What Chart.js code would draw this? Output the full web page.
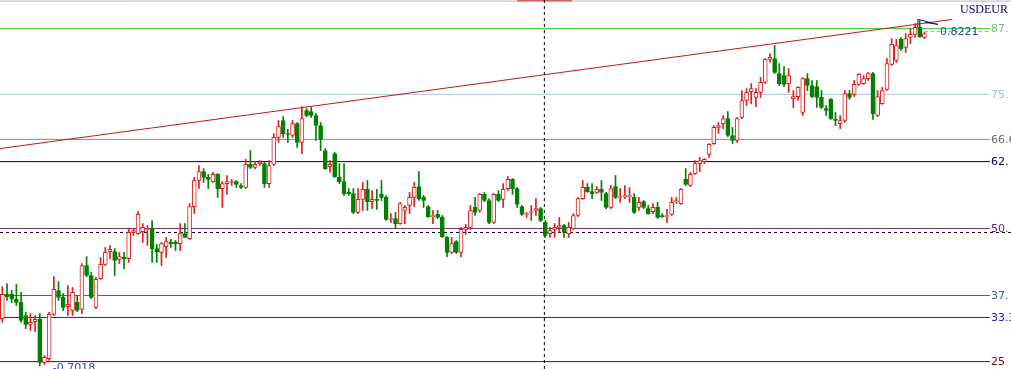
<!DOCTYPE html>
<html>
<head>
<meta charset="utf-8">
<script src="https://cdn.jsdelivr.net/npm/chart.js@4.4.1/dist/chart.umd.min.js"></script>
<style>
  html, body { margin: 0; padding: 0; background: #fff; overflow: hidden; }
  #wrap { width: 1011px; height: 369px; position: relative; }
</style>
</head>
<body>
<div id="wrap"><canvas id="fxChart"></canvas></div>
<script>
// USDEUR candles (oldest first)
const symbol = 'USDEUR';
const openPrices = [
  .7188,.7275,.7275,.7257,.7246,.7199,.7167,.7177,.7185,.7030,
  .7044,.7203,.7289,.7264,.7231,.7217,.7246,.7221,.7379,.7343,
  .7228,.7332,.7383,.7429,.7429,.7401,.7408,.7404,.7498,.7494,
  .7501,.7509,.7512,.7440,.7426,.7447,.7462,.7462,.7458,.7494,
  .7476,.7591,.7685,.7717,.7696,.7681,.7707,.7656,.7674,.7678,
  .7681,.7667,.7660,.7743,.7732,.7746,.7746,.7674,.7743,.7840,
  .7901,.7854,.7847,.7890,.7822,.7937,.7933,.7919,.7883,.7793,
  .7735,.7782,.7696,.7681,.7642,.7638,.7570,.7617,.7653,.7609,
  .7617,.7635,.7624,.7545,.7548,.7530,.7577,.7595,.7624,.7663,
  .7624,.7591,.7555,.7563,.7552,.7480,.7426,.7465,.7426,.7509,
  .7516,.7588,.7577,.7635,.7613,.7534,.7635,.7617,.7656,.7689,
  .7656,.7591,.7563,.7570,.7577,.7584,.7534,.7494,.7509,.7516,
  .7523,.7494,.7512,.7559,.7620,.7660,.7645,.7642,.7653,.7638,
  .7588,.7663,.7624,.7627,.7627,.7624,.7588,.7609,.7584,.7573,
  .7588,.7559,.7555,.7563,.7609,.7602,.7689,.7667,.7710,.7746,
  .7753,.7779,.7818,.7876,.7890,.7908,.7847,.7829,.7912,.7973,
  .8005,.7984,.8002,.8038,.8121,.8124,.8070,.8063,.8034,.7980,
  .7987,.7930,.8052,.8027,.8023,.7984,.7944,.7977,.7905,.7890,
  .7901,.7998,.7995,.8031,.8034,.8052,.8070,.7919,.7962,.8013,
  .8103,.8117,.8193,.8164,.8200,.8211,.8236,.8200
];
const highPrices = [
  .7303,.7314,.7289,.7311,.7282,.7210,.7206,.7199,.7206,.7055,
  .7210,.7339,.7321,.7278,.7307,.7300,.7271,.7386,.7411,.7354,
  .7336,.7408,.7444,.7451,.7440,.7426,.7426,.7512,.7512,.7573,
  .7530,.7523,.7541,.7455,.7462,.7480,.7473,.7469,.7530,.7530,
  .7602,.7696,.7739,.7728,.7707,.7714,.7710,.7681,.7703,.7689,
  .7685,.7674,.7761,.7793,.7753,.7757,.7750,.7757,.7854,.7901,
  .7915,.7869,.7901,.7894,.7951,.7944,.7948,.7926,.7894,.7800,
  .7757,.7786,.7746,.7746,.7656,.7656,.7656,.7678,.7685,.7649,
  .7653,.7685,.7631,.7566,.7570,.7606,.7595,.7642,.7678,.7717,
  .7631,.7595,.7577,.7577,.7559,.7483,.7480,.7469,.7516,.7527,
  .7595,.7624,.7638,.7642,.7620,.7638,.7649,.7674,.7699,.7692,
  .7660,.7595,.7570,.7595,.7620,.7588,.7541,.7516,.7530,.7552,
  .7527,.7534,.7566,.7624,.7685,.7674,.7674,.7663,.7685,.7642,
  .7667,.7703,.7656,.7667,.7660,.7638,.7624,.7613,.7595,.7602,
  .7606,.7566,.7581,.7624,.7624,.7656,.7728,.7714,.7757,.7768,
  .7764,.7818,.7883,.7894,.7919,.7933,.7876,.7912,.8009,.8016,
  .8034,.8016,.8056,.8124,.8142,.8171,.8106,.8095,.8088,.8009,
  .8023,.8056,.8070,.8045,.8045,.8009,.7955,.7980,.7930,.7919,
  .8009,.8009,.8045,.8070,.8063,.8074,.8074,.8009,.8020,.8124,
  .8196,.8193,.8200,.8214,.8232,.8250,.8261,.8218
];
const lowPrices = [
  .7174,.7253,.7246,.7235,.7174,.7152,.7145,.7141,.7018,.7023,
  .7037,.7199,.7253,.7217,.7199,.7199,.7213,.7206,.7339,.7260,
  .7224,.7329,.7379,.7404,.7343,.7386,.7368,.7390,.7487,.7491,
  .7462,.7451,.7390,.7390,.7379,.7408,.7444,.7433,.7433,.7480,
  .7473,.7566,.7656,.7678,.7656,.7678,.7624,.7588,.7635,.7667,
  .7660,.7656,.7656,.7728,.7728,.7739,.7660,.7660,.7739,.7822,
  .7840,.7822,.7840,.7804,.7782,.7915,.7912,.7829,.7793,.7725,
  .7714,.7696,.7674,.7631,.7631,.7566,.7566,.7577,.7577,.7584,
  .7581,.7613,.7541,.7534,.7512,.7527,.7530,.7566,.7591,.7613,
  .7588,.7552,.7530,.7548,.7480,.7411,.7422,.7422,.7411,.7491,
  .7509,.7559,.7570,.7609,.7530,.7530,.7609,.7588,.7649,.7635,
  .7588,.7559,.7552,.7541,.7559,.7537,.7480,.7480,.7480,.7498,
  .7480,.7480,.7509,.7555,.7617,.7642,.7620,.7638,.7613,.7584,
  .7584,.7620,.7606,.7620,.7606,.7566,.7577,.7584,.7563,.7566,
  .7548,.7552,.7534,.7559,.7602,.7599,.7667,.7663,.7707,.7717,
  .7746,.7768,.7815,.7854,.7872,.7843,.7818,.7822,.7908,.7955,
  .7962,.7951,.7984,.8034,.8110,.8070,.8027,.8023,.8002,.7948,
  .7973,.7919,.8009,.7984,.7948,.7944,.7919,.7905,.7883,.7872,
  .7894,.7977,.7987,.8027,.8031,.8045,.7905,.7915,.7959,.8009,
  .8099,.8110,.8153,.8146,.8178,.8200,.8200,.8196
];
const closePrices = [
  .7275,.7267,.7260,.7246,.7181,.7167,.7174,.7185,.7030,.7048,
  .7203,.7293,.7264,.7228,.7239,.7282,.7217,.7379,.7343,.7264,
  .7329,.7383,.7426,.7437,.7397,.7411,.7404,.7498,.7505,.7563,
  .7516,.7512,.7440,.7429,.7458,.7465,.7458,.7458,.7494,.7480,
  .7591,.7685,.7717,.7696,.7689,.7707,.7656,.7674,.7681,.7681,
  .7671,.7660,.7743,.7732,.7743,.7750,.7674,.7739,.7840,.7879,
  .7854,.7851,.7890,.7822,.7908,.7919,.7919,.7883,.7833,.7728,
  .7743,.7699,.7681,.7638,.7638,.7570,.7617,.7653,.7609,.7617,
  .7613,.7624,.7545,.7548,.7530,.7602,.7588,.7624,.7660,.7620,
  .7613,.7555,.7559,.7552,.7483,.7426,.7458,.7426,.7509,.7516,
  .7577,.7570,.7635,.7613,.7534,.7635,.7613,.7653,.7689,.7656,
  .7599,.7563,.7566,.7573,.7584,.7541,.7487,.7505,.7516,.7523,
  .7498,.7516,.7559,.7620,.7660,.7645,.7638,.7653,.7642,.7588,
  .7656,.7624,.7627,.7631,.7631,.7570,.7606,.7588,.7566,.7588,
  .7552,.7555,.7559,.7606,.7613,.7653,.7671,.7707,.7746,.7757,
  .7761,.7815,.7876,.7883,.7908,.7847,.7829,.7908,.7973,.8002,
  .8016,.8002,.8038,.8121,.8128,.8074,.8034,.8031,.8063,.7987,
  .8020,.8052,.8027,.7987,.7984,.7948,.7937,.7908,.7901,.7901,
  .7998,.7984,.8031,.8067,.8052,.8070,.7926,.7987,.8009,.8106,
  .8175,.8171,.8160,.8196,.8211,.8236,.8203,.8214
];

// levels drawn as horizontal lines with their tags at the right edge
const levelLabels = ['87.', '75.', '66.6', '62.', '50.', '37.', '33.3', '25'];
const levelPrices = [.8232, .7995, .7833, .7753, .7512, .7271, .7192, .7033];
const lineLevel = .7498;          // dashed black line
const bidPrice = .8221;           // last price tag
const lowTagPrice = .7018;        // lowest low, tag under candle 8
const lowTagIndex = 8;
// trend line through the two swing highs, extended
const trendIndex = [-0.5, 203];
const trendPrice = [.7800, .8265];
// crosshair and small flag object
const crossIndex = 115.8;
const crossTagIndex = [110, 121.7];
const flagIndex = [195.6, 195.6, 199.9, 197.1];
const flagPrice = [.8236, .8265, .8247, .8254];

const slots = 216;                // visible bar slots incl. right shift
const levelEnd = 211;
const bidStart = 197.1;
const yTop = .83348, yBottom = .70064;

const levelColors = ['#3fd13f', '#aac8e0', '#8a8a8a', '#000046', '#7b2b7b', '#1f8080', '#1c1ca8', '#7a0000'];
const levelTextColors = ['#6cc46c', '#a4bcd4', '#707070', '#000050', '#702070', '#207070', '#2020a0', '#700000'];
const upColor = '#e01e1e';
const downColor = '#008000';

const isUp = closePrices.map((c, i) => c > openPrices[i]);

function hLine(price, from, to) {
  return [{ x: from, y: price }, { x: to, y: price }];
}

const lineStyle = { type: 'line', pointRadius: 0, borderWidth: 1, fill: false, tension: 0, order: 3 };

const datasets = [
  {
    type: 'bar',
    data: closePrices.map((c, i) => ({ x: i, y: [openPrices[i], c] })),
    backgroundColor: isUp.map(u => u ? '#ffffff' : downColor),
    borderColor: isUp.map(u => u ? upColor : downColor),
    borderWidth: 1,
    borderSkipped: false,
    grouped: false,
    barThickness: 4,
    maxBarThickness: 4,
    order: 0
  },
  {
    type: 'bar',
    data: lowPrices.map((l, i) => ({ x: i, y: [l, highPrices[i]] })),
    backgroundColor: isUp.map(u => u ? upColor : downColor),
    borderWidth: 0,
    grouped: false,
    barThickness: 1,
    maxBarThickness: 1,
    order: 1
  },
  Object.assign({}, lineStyle, {
    data: trendIndex.map((x, i) => ({ x: x, y: trendPrice[i] })),
    borderColor: '#c01818', order: 2
  }),
  Object.assign({}, lineStyle, {
    data: hLine(lineLevel, -0.5, slots - 0.5),
    borderColor: '#000000', borderDash: [3, 3]
  }),
  Object.assign({}, lineStyle, {
    data: hLine(bidPrice, bidStart, levelEnd),
    borderColor: '#9a9a9a', borderDash: [3, 3]
  }),
  Object.assign({}, lineStyle, {
    data: [{ x: crossIndex, y: yBottom }, { x: crossIndex, y: yTop }],
    borderColor: '#000000', borderDash: [3, 3], order: 1
  }),
  Object.assign({}, lineStyle, {
    data: hLine(yTop - .0004, -0.5, slots - 0.5),
    borderColor: '#b4b4b4'
  }),
  Object.assign({}, lineStyle, {
    data: hLine(yTop, crossTagIndex[0], crossTagIndex[1]),
    borderColor: '#e03030', borderWidth: 3
  }),
  Object.assign({}, lineStyle, {
    data: flagIndex.map((x, i) => ({ x: x, y: flagPrice[i] })),
    borderColor: '#1a1a8a', order: 0
  })
];

levelPrices.forEach((p, i) => {
  datasets.push(Object.assign({}, lineStyle, {
    data: hLine(p, -0.5, levelEnd),
    borderColor: levelColors[i]
  }));
});

const tagPlugin = {
  id: 'priceTags',
  afterDatasetsDraw(chart) {
    const { ctx, scales: { x, y } } = chart;
    ctx.save();
    ctx.font = '11px "DejaVu Sans"';
    ctx.textBaseline = 'middle';
    const tagX = x.getPixelForValue(levelEnd) + 1;
    levelPrices.forEach((p, i) => {
      ctx.fillStyle = levelTextColors[i];
      ctx.fillText(levelLabels[i], tagX, y.getPixelForValue(p) + 1);
    });
    // last price
    ctx.fillStyle = '#3048a8';
    ctx.fillText(bidPrice.toFixed(4), 940, y.getPixelForValue(bidPrice) + 1);
    // lowest low
    ctx.textBaseline = 'top';
    ctx.fillText('-' + lowTagPrice.toFixed(4), x.getPixelForValue(lowTagIndex) + 13, y.getPixelForValue(lowTagPrice) - 3);
    // symbol
    ctx.font = '12px "Liberation Serif"';
    ctx.fillStyle = '#000080';
    ctx.textAlign = 'right';
    ctx.textBaseline = 'middle';
    ctx.fillText(symbol, 1008, 10);
    ctx.restore();
  }
};

new Chart(document.getElementById('fxChart'), {
  type: 'bar',
  data: { datasets: datasets },
  options: {
    responsive: true,
    maintainAspectRatio: false,
    animation: false,
    layout: { padding: 0 },
    plugins: { legend: { display: false }, tooltip: { enabled: false } },
    scales: {
      x: { type: 'linear', display: false, offset: false, min: -0.5, max: slots - 0.5 },
      y: { type: 'linear', display: false, min: yBottom, max: yTop }
    }
  },
  plugins: [tagPlugin]
});
</script>
</body>
</html>
